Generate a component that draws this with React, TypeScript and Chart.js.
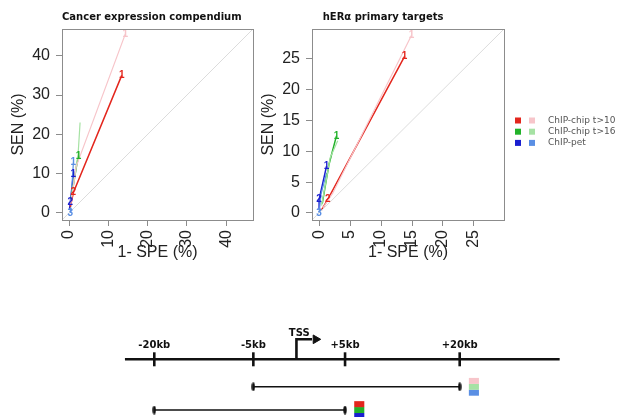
import React, { useEffect, useRef } from 'react';
import { Chart, registerables } from 'chart.js';

Chart.register(...registerables);

// ---------- legend / series identity ----------
const seriesNames = ['ChIP-chip t>10', 'ChIP-chip t>16', 'ChIP-pet'];
const darkColors = ['#e3261d', '#22b22a', '#1a1fd0'];
const lightColors = ['#f7c5ca', '#a6e2a4', '#5a8fe4'];

// ---------- Panel 1: Cancer expression compendium (x = 1-SPE %, y = SEN %) ----------
const cecTitle = 'Cancer expression compendium';
const cecTicks = [0, 10, 20, 30, 40];
const cecLimits = [-1.8, 46.8];
const cecT10DarkX = [13.4, 1.1, 0.3];
const cecT10DarkY = [35.0, 5.2, 1.5];
const cecT10DarkLabels = ['1', '2', ''];
const cecT10LightX = [14.3, 1.8, 0.4];
const cecT10LightY = [45.5, 11.8, 2.0];
const cecT10LightLabels = ['1', '', ''];
const cecT16DarkX = [2.4, 1.9, 0.5];
const cecT16DarkY = [14.5, 12.0, 3.5];
const cecT16DarkLabels = ['1', '', ''];
const cecT16LightX = [2.8, 2.3, 0.6];
const cecT16LightY = [23.0, 15.0, 4.0];
const cecT16LightLabels = ['', '', ''];
const cecPetDarkX = [1.1, 0.3, 0.1];
const cecPetDarkY = [9.8, 2.6, 0.8];
const cecPetDarkLabels = ['1', '2', ''];
const cecPetLightX = [1.1, 0.7, 0.3];
const cecPetLightY = [12.8, 6.5, 0.0];
const cecPetLightLabels = ['1', '', '3'];

// ---------- Panel 2: hERα primary targets ----------
const herTitle = 'hERα primary targets';
const herTicks = [0, 5, 10, 15, 20, 25];
const herLimits = [-1.15, 29.85];
const herT10DarkX = [13.8, 1.4, 0.4];
const herT10DarkY = [25.4, 2.2, 0.5];
const herT10DarkLabels = ['1', '2', ''];
const herT10LightX = [14.9, 2.2, 0.6];
const herT10LightY = [28.8, 3.2, 0.8];
const herT10LightLabels = ['1', '', ''];
const herT16DarkX = [2.8, 1.6, 0.5];
const herT16DarkY = [12.5, 7.9, 1.5];
const herT16DarkLabels = ['1', '', ''];
const herT16LightX = [3.0, 1.8, 0.4];
const herT16LightY = [11.7, 9.0, 1.2];
const herT16LightLabels = ['', '', ''];
const herPetDarkX = [1.2, 0.0, 0.0];
const herPetDarkY = [7.6, 2.2, 0.5];
const herPetDarkLabels = ['1', '2', ''];
const herPetLightX = [1.2, 0.3, 0.0];
const herPetLightY = [6.5, 3.0, 0.0];
const herPetLightLabels = ['', '', '3'];

// ---------- Bottom schematic (positions in schematic units, not to scale) ----------
const regionTickLabels = ['-20kb', '-5kb', '+5kb', '+20kb'];
const regionTickPos = [-15.8, -5, 5, 17.5];
const axisExtent = [-19, 28.4];
const tssPos = -0.3;
const tssLabel = 'TSS';
// windows given as [start tick index, end tick index]
const windowTicks = [[1, 3], [0, 2]];
const windowRows = [-1.1, -2.03];
const windowPalettes = [lightColors, darkColors];

const SANS = "'Liberation Sans', Arial, sans-serif";
const DEJA = "'DejaVu Sans', Verdana, sans-serif";
const AXIS_GREY = '#8c8c8c';

const zip = (xs: number[], ys: number[]) => xs.map((x, i) => ({ x, y: ys[i] }));

const boxPlugin = {
  id: 'rbox',
  afterDraw(chart: any) {
    const { ctx, chartArea: a } = chart;
    ctx.save();
    ctx.strokeStyle = AXIS_GREY;
    ctx.lineWidth = 1;
    ctx.strokeRect(Math.round(a.left) + 0.5, Math.round(a.top) + 0.5, Math.round(a.right - a.left), Math.round(a.bottom - a.top));
    ctx.restore();
  },
};

const pointLabelPlugin = {
  id: 'pointLabels',
  afterDatasetsDraw(chart: any) {
    const ctx = chart.ctx;
    chart.data.datasets.forEach((ds: any, i: number) => {
      if (!ds.pointLabels) return;
      const meta = chart.getDatasetMeta(i);
      ctx.save();
      ctx.font = `bold 10px ${SANS}`;
      ctx.fillStyle = ds.borderColor;
      ctx.textAlign = 'center';
      ctx.textBaseline = 'middle';
      meta.data.forEach((el: any, j: number) => {
        const t = ds.pointLabels[j];
        if (t) ctx.fillText(t, el.x, el.y);
      });
      ctx.restore();
    });
  },
};

const panelTitlePlugin = {
  id: 'panelTitle',
  afterDraw(chart: any, _args: any, opts: any) {
    if (!opts || !opts.text) return;
    const ctx = chart.ctx;
    ctx.save();
    ctx.font = `bold 10px ${DEJA}`;
    ctx.fillStyle = '#111';
    ctx.textAlign = 'left';
    ctx.textBaseline = 'middle';
    ctx.fillText(opts.text, chart.chartArea.left + (opts.dx || 0), opts.y);
    ctx.restore();
  },
};

const pairLegendPlugin = {
  id: 'pairLegend',
  afterDraw(chart: any, _args: any, opts: any) {
    if (!opts || !opts.items) return;
    const ctx = chart.ctx;
    ctx.save();
    ctx.font = `9px ${DEJA}`;
    ctx.textAlign = 'left';
    ctx.textBaseline = 'middle';
    opts.items.forEach((it: any, i: number) => {
      const y = opts.y + i * opts.step;
      ctx.fillStyle = it.dark;
      ctx.fillRect(opts.x, y - 3, 6, 6);
      ctx.fillStyle = it.light;
      ctx.fillRect(opts.x + 14, y - 3, 6, 6);
      ctx.fillStyle = '#555';
      ctx.fillText(it.label, opts.x + 33, y);
    });
    ctx.restore();
  },
};

type Series = { color: string; width: number; x: number[]; y: number[]; labels: string[] };

function rocConfig(
  series: Series[],
  limits: number[],
  ticks: number[],
  title: string,
  titleDx: number,
  rightPad: number,
  legend: boolean
): any {
  const tickFont = { family: SANS, size: 16 };
  const titleFont = { family: SANS, size: 16 };
  const datasets: any[] = [
    {
      data: [{ x: limits[0], y: limits[0] }, { x: limits[1], y: limits[1] }],
      showLine: true,
      borderColor: '#dcdcdc',
      borderWidth: 1,
      pointRadius: 0,
    },
    ...series.map((s) => ({
      data: zip(s.x, s.y),
      showLine: true,
      borderColor: s.color,
      borderWidth: s.width,
      pointRadius: 0,
      pointLabels: s.labels,
    })),
  ];
  const axis = (isX: boolean) => ({
    type: 'linear',
    min: limits[0],
    max: limits[1],
    afterBuildTicks: (sc: any) => {
      sc.ticks = ticks.map((v) => ({ value: v }));
    },
    afterFit: (sc: any) => {
      if (isX) sc.height = 50;
      else sc.width = 62;
    },
    ticks: isX
      ? { font: tickFont, color: '#222', minRotation: 90, maxRotation: 90, padding: 4, autoSkip: false }
      : { font: tickFont, color: '#222', padding: 6, autoSkip: false },
    grid: { drawOnChartArea: false, drawTicks: true, tickLength: 6, color: AXIS_GREY, lineWidth: 1 },
    border: { display: true, color: AXIS_GREY, width: 1 },
    title: {
      display: true,
      text: isX ? '1- SPE (%)' : 'SEN (%)',
      font: titleFont,
      color: '#222',
      padding: isX ? { top: 0, bottom: 7.4 } : { top: 8.7, bottom: 0 },
    },
  });
  return {
    type: 'scatter',
    data: { datasets },
    options: {
      animation: false,
      responsive: false,
      maintainAspectRatio: false,
      layout: { autoPadding: false, padding: { left: 0, top: 29, right: rightPad, bottom: 0 } },
      plugins: {
        legend: { display: false },
        tooltip: { enabled: false },
        panelTitle: { text: title, dx: titleDx, y: 17 },
        pairLegend: legend
          ? {
              items: seriesNames.map((n, i) => ({ label: n, dark: darkColors[i], light: lightColors[i] })),
              x: 265,
              y: 120.5,
              step: 11.2,
            }
          : {},
      },
      scales: { x: axis(true), y: axis(false) },
    },
    plugins: [boxPlugin, pointLabelPlugin, panelTitlePlugin, pairLegendPlugin],
  };
}

const cecSeries: Series[] = [
  { color: lightColors[0], width: 1.2, x: cecT10LightX, y: cecT10LightY, labels: cecT10LightLabels },
  { color: lightColors[1], width: 1.2, x: cecT16LightX, y: cecT16LightY, labels: cecT16LightLabels },
  { color: darkColors[0], width: 1.5, x: cecT10DarkX, y: cecT10DarkY, labels: cecT10DarkLabels },
  { color: darkColors[1], width: 1.5, x: cecT16DarkX, y: cecT16DarkY, labels: cecT16DarkLabels },
  { color: lightColors[2], width: 1.2, x: cecPetLightX, y: cecPetLightY, labels: cecPetLightLabels },
  { color: darkColors[2], width: 1.5, x: cecPetDarkX, y: cecPetDarkY, labels: cecPetDarkLabels },
];

const herSeries: Series[] = [
  { color: lightColors[0], width: 1.2, x: herT10LightX, y: herT10LightY, labels: herT10LightLabels },
  { color: lightColors[1], width: 1.2, x: herT16LightX, y: herT16LightY, labels: herT16LightLabels },
  { color: darkColors[0], width: 1.5, x: herT10DarkX, y: herT10DarkY, labels: herT10DarkLabels },
  { color: darkColors[1], width: 1.5, x: herT16DarkX, y: herT16DarkY, labels: herT16DarkLabels },
  { color: lightColors[2], width: 1.2, x: herPetLightX, y: herPetLightY, labels: herPetLightLabels },
  { color: darkColors[2], width: 1.5, x: herPetDarkX, y: herPetDarkY, labels: herPetDarkLabels },
];

function capImage(): HTMLCanvasElement {
  const c = document.createElement('canvas');
  c.width = 4;
  c.height = 9;
  const g = c.getContext('2d')!;
  g.fillStyle = '#111';
  g.beginPath();
  g.ellipse(2, 4.5, 1.7, 4.2, 0, 0, Math.PI * 2);
  g.fill();
  return c;
}

const diagramTextPlugin = {
  id: 'diagramText',
  afterDatasetsDraw(chart: any) {
    const { ctx, scales } = chart;
    ctx.save();
    ctx.font = `bold 10px ${DEJA}`;
    ctx.fillStyle = '#111';
    ctx.textAlign = 'center';
    ctx.textBaseline = 'middle';
    regionTickLabels.forEach((t, i) => {
      ctx.fillText(t, scales.x.getPixelForValue(regionTickPos[i]), scales.y.getPixelForValue(0.57));
    });
    ctx.fillText(tssLabel, scales.x.getPixelForValue(tssPos + 0.3), scales.y.getPixelForValue(1.05));
    ctx.restore();
  },
};

function diagramConfig(): any {
  const cap = capImage();
  const black = '#111';
  const datasets: any[] = [
    {
      data: axisExtent.map((x) => ({ x, y: 0 })),
      showLine: true,
      borderColor: black,
      borderWidth: 2.6,
      pointRadius: 0,
    },
    {
      data: regionTickPos.map((x) => ({ x, y: 0 })),
      showLine: false,
      pointStyle: 'line',
      rotation: 90,
      pointRadius: 7,
      borderColor: black,
      borderWidth: 2.6,
    },
    {
      data: [
        { x: tssPos, y: 0 },
        { x: tssPos, y: 0.8 },
        { x: tssPos + 1.7, y: 0.8 },
      ],
      showLine: true,
      borderColor: black,
      borderWidth: 2.6,
      pointRadius: 0,
      borderJoinStyle: 'miter',
    },
    {
      data: [{ x: tssPos + 2.1, y: 0.8 }],
      showLine: false,
      pointStyle: 'triangle',
      rotation: 90,
      pointRadius: 5,
      backgroundColor: black,
      borderColor: black,
      borderWidth: 1,
    },
  ];
  windowTicks.forEach((w, wi) => {
    const row = windowRows[wi];
    const x0 = regionTickPos[w[0]];
    const x1 = regionTickPos[w[1]];
    datasets.push({
      data: [
        { x: x0, y: row },
        { x: x1, y: row },
      ],
      showLine: true,
      borderColor: black,
      borderWidth: 1.5,
      pointStyle: cap,
      pointRadius: 4,
    });
    windowPalettes[wi].forEach((col, k) => {
      const y = row + (1 - k) * 0.236;
      datasets.push({
        data: [
          { x: x1 + 1.0, y },
          { x: x1 + 2.1, y },
        ],
        showLine: true,
        borderColor: col,
        borderWidth: 6,
        borderCapStyle: 'butt',
        pointRadius: 0,
      });
    });
  });
  return {
    type: 'scatter',
    data: { datasets },
    options: {
      animation: false,
      responsive: false,
      maintainAspectRatio: false,
      layout: { autoPadding: false, padding: 0 },
      plugins: { legend: { display: false }, tooltip: { enabled: false } },
      scales: {
        x: { type: 'linear', min: -21.72, max: 32.8, display: false },
        y: { type: 'linear', min: -2.308, max: 1.572, display: false },
      },
    },
    plugins: [diagramTextPlugin],
  };
}

export default function App() {
  const leftRef = useRef<HTMLCanvasElement>(null);
  const rightRef = useRef<HTMLCanvasElement>(null);
  const diagRef = useRef<HTMLCanvasElement>(null);

  useEffect(() => {
    const charts = [
      new Chart(leftRef.current!, rocConfig(cecSeries, cecLimits, cecTicks, cecTitle, 0, 7, false)),
      new Chart(rightRef.current!, rocConfig(herSeries, herLimits, herTicks, herTitle, 10.7, 119, true)),
      new Chart(diagRef.current!, diagramConfig()),
    ];
    return () => charts.forEach((c) => c.destroy());
  }, []);

  return (
    <div style={{ position: 'absolute', left: 0, top: 0, width: 623, height: 417, background: '#fff', overflow: 'hidden' }}>
      <canvas ref={leftRef} width={260} height={270} style={{ position: 'absolute', left: 0, top: 0 }} />
      <canvas ref={rightRef} width={373} height={270} style={{ position: 'absolute', left: 250, top: 0 }} />
      <canvas ref={diagRef} width={500} height={97} style={{ position: 'absolute', left: 100, top: 320 }} />
    </div>
  );
}
